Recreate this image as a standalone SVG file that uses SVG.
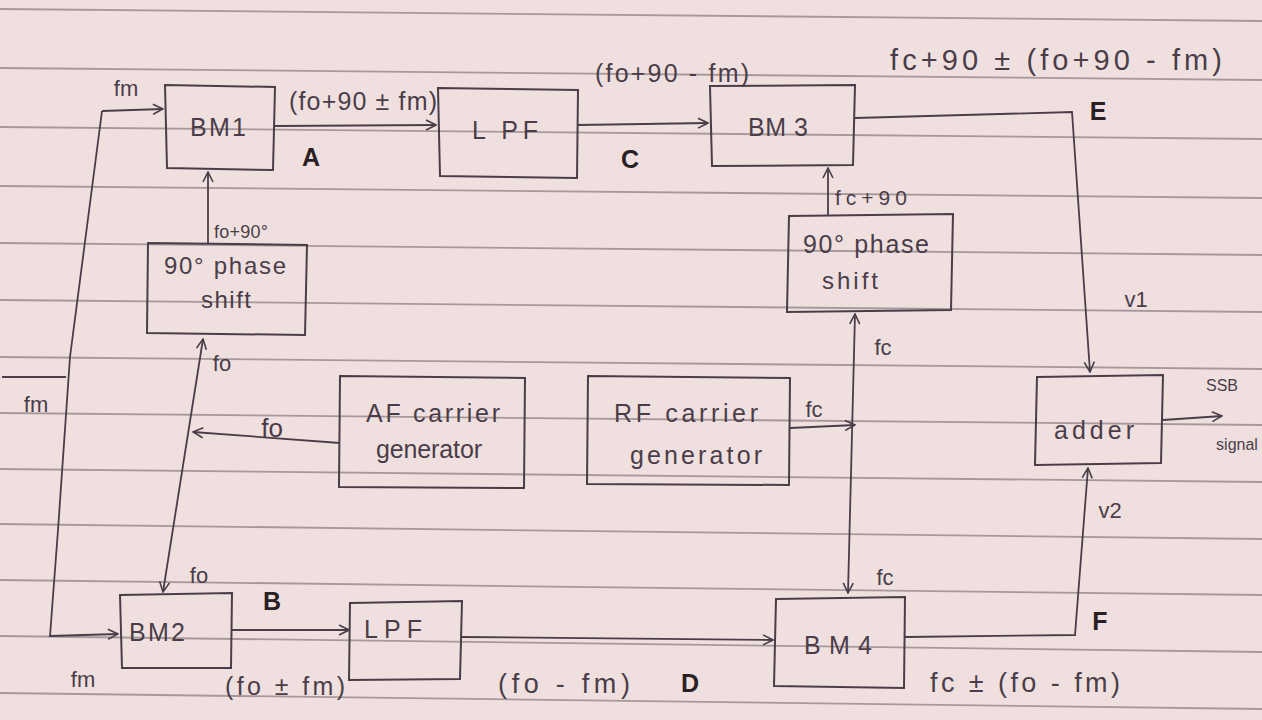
<svg xmlns="http://www.w3.org/2000/svg" width="1262" height="720" viewBox="0 0 1262 720">
<defs>
<marker id="ar" viewBox="0 0 12 12" refX="11" refY="6" markerWidth="12" markerHeight="12" markerUnits="userSpaceOnUse" orient="auto-start-reverse">
<path d="M1,1 L11,6 L1,11" fill="none" stroke="#4a3d48" stroke-width="1.6"/>
</marker>
</defs>
<style>
.paper{fill:#efe0df}
.rule{stroke:#8f8084;stroke-width:1.8;fill:none;opacity:0.75}
.box{fill:none;stroke:#4a3d48;stroke-width:2}
.c{fill:none;stroke:#4a3d48;stroke-width:1.8}
.t{font-family:"Liberation Sans",Arial,sans-serif;fill:#4a3d48;font-size:22px}
.n{font-size:25px}
.m{text-anchor:middle}
.b{font-family:"Liberation Sans",Arial,sans-serif;fill:#2a2024;font-size:25px;font-weight:bold;text-anchor:middle}
.s{font-size:16px}
</style>
<rect class="paper" x="0" y="0" width="1262" height="720"/>
<g id="rules">
<line class="rule" x1="0" y1="9" x2="1262" y2="21"/>
<line class="rule" x1="0" y1="68" x2="1262" y2="80"/>
<line class="rule" x1="0" y1="127" x2="1262" y2="139"/>
<line class="rule" x1="0" y1="186" x2="1262" y2="198"/>
<line class="rule" x1="0" y1="243" x2="1262" y2="255"/>
<line class="rule" x1="0" y1="300" x2="1262" y2="312"/>
<line class="rule" x1="0" y1="357" x2="1262" y2="369"/>
<line class="rule" x1="0" y1="413" x2="1262" y2="425"/>
<line class="rule" x1="0" y1="469" x2="1262" y2="482"/>
<line class="rule" x1="0" y1="524" x2="1262" y2="539"/>
<line class="rule" x1="0" y1="580" x2="1262" y2="595"/>
<line class="rule" x1="0" y1="636" x2="1262" y2="652"/>
<line class="rule" x1="0" y1="693" x2="1262" y2="709"/>
</g>
<g id="connectors">
<path class="c" d="M102,111 L163,109" marker-end="url(#ar)"/>
<path class="c" d="M2,377 L66,377"/>
<path class="c" d="M102,111 L70,357 L58,530 L50,636 L118,634" marker-end="url(#ar)"/>
<path class="c" d="M275,126 L436,125" marker-end="url(#ar)"/>
<path class="c" d="M578,125 L708,123" marker-end="url(#ar)"/>
<path class="c" d="M855,118 L1072,112 L1090,372" marker-end="url(#ar)"/>
<path class="c" d="M828,215 L828,168" marker-end="url(#ar)"/>
<path class="c" d="M848,593 L855,314" marker-start="url(#ar)" marker-end="url(#ar)"/>
<path class="c" d="M790,428 L855,425" marker-end="url(#ar)"/>
<path class="c" d="M340,443 L193,432" marker-end="url(#ar)"/>
<path class="c" d="M163,592 L203,339" marker-start="url(#ar)" marker-end="url(#ar)"/>
<path class="c" d="M208,243 L208,172" marker-end="url(#ar)"/>
<path class="c" d="M232,630 L349,630" marker-end="url(#ar)"/>
<path class="c" d="M462,637 L773,640" marker-end="url(#ar)"/>
<path class="c" d="M905,637 L1075,635 L1088,468" marker-end="url(#ar)"/>
<path class="c" d="M1163,420 L1222,416" marker-end="url(#ar)"/>
</g>
<g id="bm1"><path class="box" d="M165,85 L275,87 L273,170 L167,168 Z"/><text class="t n" x="190" y="136" textLength="56" lengthAdjust="spacing">BM1</text></g>
<g id="lpf1"><path class="box" d="M438,88 L578,90 L577,178 L440,176 Z"/><text class="t n" x="472" y="139" textLength="66" lengthAdjust="spacing">L PF</text></g>
<g id="bm3"><path class="box" d="M710,86 L855,85 L853,165 L712,166 Z"/><text class="t n" x="748" y="136" textLength="60" lengthAdjust="spacing">BM 3</text></g>
<g id="ps1"><path class="box" d="M148,243 L307,245 L305,335 L147,333 Z"/><text class="t" x="164" y="274" style="font-size:24px" textLength="122" lengthAdjust="spacing">90° phase</text><text class="t" x="201" y="308" style="font-size:24px" textLength="50" lengthAdjust="spacing">shift</text></g>
<g id="ps2"><path class="box" d="M789,216 L953,214 L951,310 L787,312 Z"/><text class="t" x="803" y="253" style="font-size:25px" textLength="126" lengthAdjust="spacing">90° phase</text><text class="t" x="822" y="289" style="font-size:24px" textLength="56" lengthAdjust="spacing">shift</text></g>
<g id="af"><path class="box" d="M340,376 L525,378 L524,488 L339,487 Z"/><text class="t n" x="366" y="422" textLength="134" lengthAdjust="spacing">AF carrier</text><text class="t n" x="376" y="458" textLength="106" lengthAdjust="spacing">generator</text></g>
<g id="rf"><path class="box" d="M588,376 L790,378 L789,485 L587,484 Z"/><text class="t n" x="614" y="422" textLength="144" lengthAdjust="spacing">RF carrier</text><text class="t n" x="630" y="464" textLength="132" lengthAdjust="spacing">generator</text></g>
<g id="adder"><path class="box" d="M1037,377 L1163,375 L1161,463 L1035,465 Z"/><text class="t n" x="1054" y="439" textLength="80" lengthAdjust="spacing">adder</text></g>
<g id="bm2"><path class="box" d="M120,595 L232,593 L231,668 L122,668 Z"/><text class="t n" x="129" y="641" textLength="56" lengthAdjust="spacing">BM2</text></g>
<g id="lpf2"><path class="box" d="M350,603 L462,601 L460,679 L349,680 Z"/><text class="t n" x="364" y="638" textLength="58" lengthAdjust="spacing">LPF</text></g>
<g id="bm4"><path class="box" d="M776,599 L905,597 L904,688 L774,686 Z"/><text class="t n" x="804" y="654" textLength="68" lengthAdjust="spacing">BM4</text></g>
<g id="labels">
<text class="t m" x="126" y="96">fm</text>
<text class="t" x="289" y="110" style="font-size:25px" textLength="148" lengthAdjust="spacing">(fo+90 ± fm)</text>
<text class="b" x="311" y="166">A</text>
<text class="t" x="595" y="82" style="font-size:25px" textLength="154" lengthAdjust="spacing">(fo+90 - fm)</text>
<text class="b" x="630" y="168">C</text>
<text class="t" x="890" y="70" style="font-size:29px" textLength="332" lengthAdjust="spacing">fc+90 ± (fo+90 - fm)</text>
<text class="b" x="1098" y="120">E</text>
<text class="t" x="835" y="205" style="font-size:21px" textLength="72" lengthAdjust="spacing">fc+90</text>
<text class="t m" x="883" y="355">fc</text>
<text class="t m" x="1136" y="307">v1</text>
<text class="t m" x="36" y="412">fm</text>
<text class="t" x="214" y="238" style="font-size:18px" textLength="54" lengthAdjust="spacing">fo+90°</text>
<text class="t m" x="222" y="371">fo</text>
<text class="t m" x="272" y="437" style="font-size:26px">fo</text>
<text class="t m" x="814" y="417">fc</text>
<text class="t m s" x="1222" y="391">SSB</text>
<text class="t m s" x="1237" y="450">signal</text>
<text class="t m" x="1110" y="518">v2</text>
<text class="t m" x="199" y="583">fo</text>
<text class="b" x="272" y="610">B</text>
<text class="t m" x="83" y="687">fm</text>
<text class="t" x="225" y="695" style="font-size:25px" textLength="120" lengthAdjust="spacing">(fo ± fm)</text>
<text class="t" x="498" y="693" style="font-size:27px" textLength="132" lengthAdjust="spacing">(fo - fm)</text>
<text class="b" x="690" y="692">D</text>
<text class="t m" x="885" y="585">fc</text>
<text class="b" x="1100" y="630">F</text>
<text class="t" x="930" y="692" style="font-size:27px" textLength="190" lengthAdjust="spacing">fc ± (fo - fm)</text>
</g>
</svg>
